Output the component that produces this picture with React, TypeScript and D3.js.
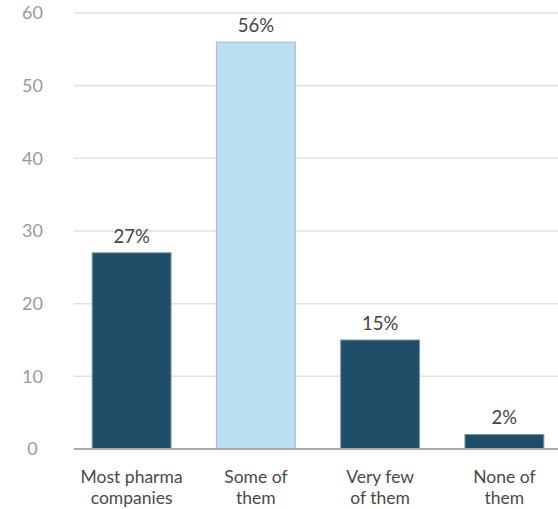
import React from "react";
import * as d3 from "d3";

const categories = ["Most pharma|companies", "Some of|them", "Very few|of them", "None of|them"];
const values = [27, 56, 15, 2];
const highlight = [false, true, false, false];
const yTicks = [0, 10, 20, 30, 40, 50, 60];

export default function App() {
  const W = 558, H = 509;
  const y = d3.scaleLinear().domain([0, 60]).range([449, 13]);
  const x = d3.scaleBand<string>().domain(categories).range([76, 560]).paddingInner(0.365).paddingOuter(0.13);
  const font = "Lato, 'Noto Sans', sans-serif";
  return (
    <svg width={W} height={H} style={{ position: "absolute", left: 0, top: 0 }} fontFamily={font}>
      {yTicks.map((t) => (
        <g key={t}>
          {t > 0 && <line x1={74} x2={558} y1={y(t)} y2={y(t)} stroke="#e2e2e2" strokeWidth={1.5} />}
          <text x={32.5} y={y(t)} dy="0.35em" textAnchor="middle" fontSize={18} fill="#9a9a9a">{t}</text>
        </g>
      ))}
      {categories.map((c, i) => (
        <g key={c}>
          <rect x={x(c)} y={y(values[i])} width={x.bandwidth()} height={y(0) - y(values[i])}
            fill={highlight[i] ? "#b9dff0" : "#1f4e68"} stroke={highlight[i] ? "#a9bcc6" : "#7f97a5"} strokeWidth={1} />
          <text x={x(c)! + x.bandwidth() / 2} y={y(values[i]) - 10} textAnchor="middle" fontSize={18.5} fill="#444">{values[i]}%</text>
          {c.split("|").map((ln, j) => (
            <text key={j} x={x(c)! + x.bandwidth() / 2} y={483 + j * 21} textAnchor="middle" fontSize={17.5} fill="#4a4a4a">{ln}</text>
          ))}
        </g>
      ))}
      <line x1={74} x2={558} y1={y(0)} y2={y(0)} stroke="#aaaaaa" strokeWidth={2} />
    </svg>
  );
}
